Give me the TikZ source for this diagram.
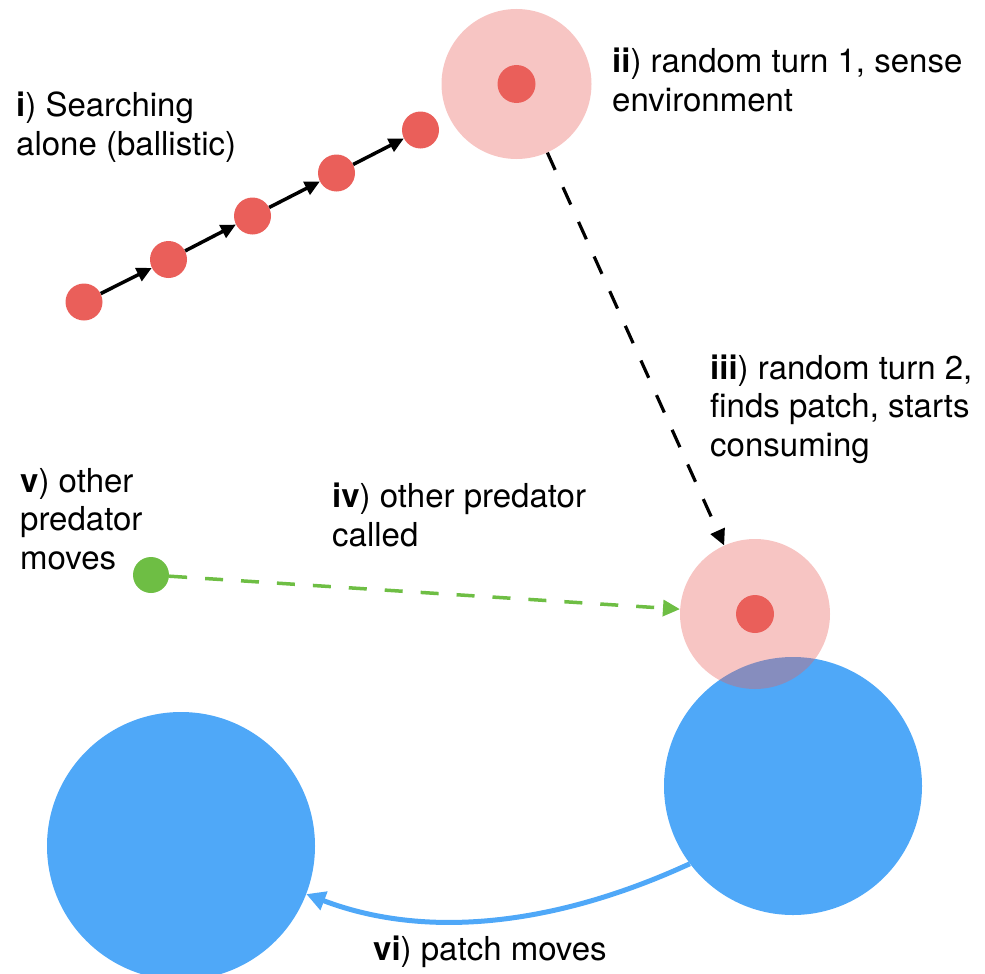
\documentclass[tikz,border=0pt]{standalone}
\usepackage{fontspec}
\setmainfont{TeX Gyre Heros}
\usetikzlibrary{arrows.meta}
\definecolor{dotred}{RGB}{234,95,90}
\definecolor{patchblue}{RGB}{79,168,248}
\definecolor{predgreen}{RGB}{110,190,68}
\tikzset{
  reddot/.style={circle, fill=dotred, inner sep=0pt, minimum size=38pt},
  sensezone/.style={circle, fill=dotred, fill opacity=0.36, inner sep=0pt, minimum size=150pt},
  patch/.style={circle, fill=patchblue, inner sep=0pt},
  greendot/.style={circle, fill=predgreen, inner sep=0pt, minimum size=36pt},
  stepline/.style={line width=3.5pt, black, -{Triangle[length=15pt,width=14pt]}},
  searchline/.style={line width=3.2pt, black, dash pattern=on 19pt off 19pt, -{Triangle[length=16pt,width=15pt]}},
  callline/.style={line width=3.5pt, predgreen, dash pattern=on 18pt off 18pt, -{Triangle[length=17pt,width=16pt]}},
  moveline/.style={line width=5pt, patchblue, -{Triangle[length=19pt,width=19pt]}},
  label/.style={anchor=base west, align=left, inner sep=0pt, font=\fontsize{33}{38.5}\selectfont}
}
\begin{document}
\begin{tikzpicture}[x=1pt,y=-1pt]
\useasboundingbox (0,0) rectangle (985,974);
% patches
\node[patch, minimum size=258pt] (bR) at (793,786) {};
\node[patch, minimum size=268pt] (bL) at (181,846) {};
% sensing zones
\node[sensezone] (s1) at (516.5,84) {};
\node[sensezone] (s2) at (755,614) {};
\node[reddot] (c1) at (516.5,84) {};
\node[reddot] (c2) at (755,614) {};
% ballistic steps
\node[reddot, minimum size=37pt] (d1) at (84,302) {};
\node[reddot, minimum size=37pt] (d2) at (168.5,259.5) {};
\node[reddot, minimum size=37pt] (d3) at (252.5,216) {};
\node[reddot, minimum size=37pt] (d4) at (336.5,173) {};
\node[reddot, minimum size=37pt] (d5) at (420.5,130) {};
\draw[stepline] (d1) -- (d2);
\draw[stepline] (d2) -- (d3);
\draw[stepline] (d3) -- (d4);
\draw[stepline] (d4) -- (d5);
% other predator
\node[greendot] (g) at (151,575) {};
% connectors
\draw[searchline] (s1) -- (s2);
\draw[callline] (g) -- (s2);
\draw[moveline] (bR.217) .. controls +(-126,58) and +(126,48) .. (bL.339);
% labels (base anchor = baseline of the last line)
\node[label] (ti) at (16,155) {\textbf{i}) Searching\\alone (ballistic)};
\node[label] (tii) at (612,111) {\textbf{ii}) random turn 1, sense\\environment};
\node[label] (tiii) at (710,456) {\textbf{iii}) random turn 2,\\finds patch, starts\\consuming};
\node[label] (tv) at (20,569) {\textbf{v}) other\\predator\\moves};
\node[label] (tiv) at (332,546) {\textbf{iv}) other predator\\called};
\node[label] (tvi) at (373,960) {\textbf{vi}) patch moves};
\end{tikzpicture}
\end{document}
